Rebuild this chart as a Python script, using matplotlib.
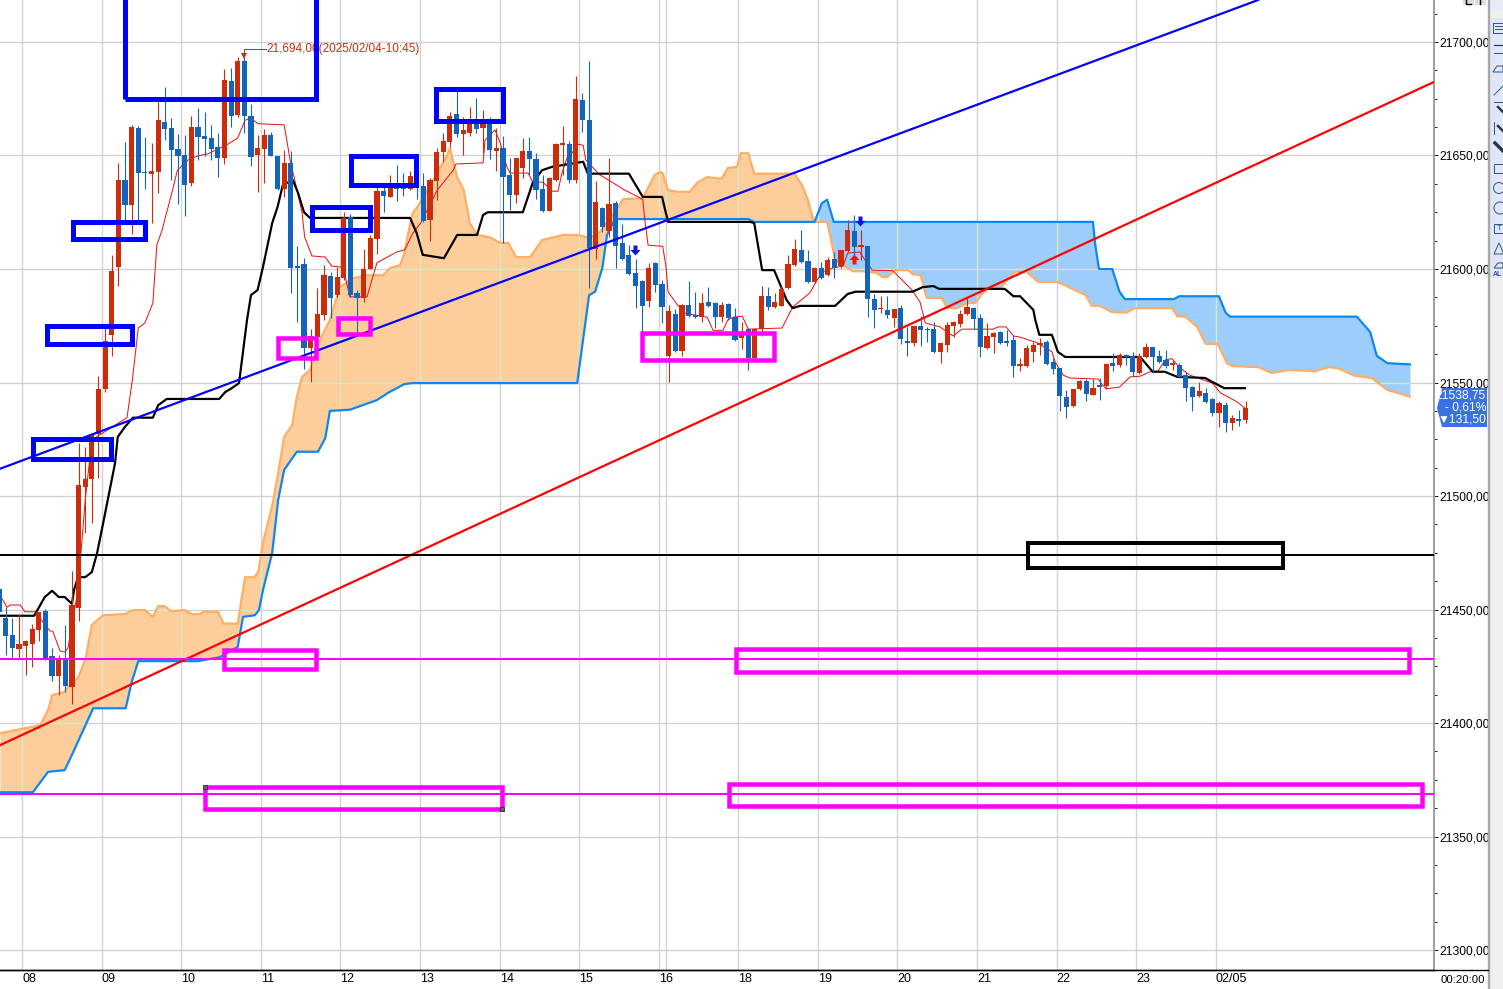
import numpy as np
import matplotlib
matplotlib.use("Agg")
import matplotlib.pyplot as plt
from matplotlib.patches import PathPatch, Polygon, Rectangle, Circle

# ---------- candles (5-minute bars, oldest first) ----------
opens = [21459, 21446.25, 21438.75, 21432.5, 21434, 21435, 21441, 21449.5, 21429.5, 21420.75,
 21428.25, 21416, 21450.75, 21504, 21507.5, 21527.25, 21547, 21571, 21600.75, 21639.25,
 21628.25, 21662, 21642.75, 21642, 21642.75, 21664.75, 21662, 21653, 21650.25, 21638,
 21662.5, 21658.5, 21657.75, 21653.75, 21649, 21682.75, 21667.75, 21691.5, 21667.5, 21650.25,
 21653, 21659, 21649.75, 21635.25, 21646.75, 21601.25, 21602.25, 21565.25, 21570, 21579.75,
 21597, 21588.5, 21596, 21623, 21589.5, 21587.25, 21600, 21613.25, 21634.25, 21631.75,
 21636.5, 21635.75, 21635.25, 21641, 21636.5, 21621.5, 21638.75, 21651.5, 21656, 21668.25,
 21659.5, 21660, 21664, 21662, 21664, 21652, 21653.25, 21641.5, 21632.5, 21644.5,
 21652, 21648.5, 21635.25, 21625.5, 21639.25, 21654.75, 21655, 21639.25, 21674.5, 21665.5,
 21608.75, 21627, 21616.75, 21629, 21611.5, 21606, 21598.25, 21594.75, 21586, 21602.75,
 21593.5, 21561.75, 21580.25, 21564, 21584.25, 21579.75, 21579, 21585.5, 21585, 21579,
 21584.5, 21579, 21569.5, 21573.5, 21560.75, 21573.5, 21588, 21583.25, 21583.75, 21591.5,
 21601.75, 21608.5, 21603.5, 21594.25, 21600.5, 21597.25, 21604.5, 21601.25, 21608, 21616.75,
 21609.75, 21610.25, 21586.75, 21582.25, 21582, 21578.5, 21582.75, 21568.25, 21567.5, 21575,
 21573.5, 21573.5, 21563.5, 21566.5, 21575, 21575.75, 21580, 21582.75, 21578.5, 21565.25,
 21570, 21572.25, 21567.75, 21568.75, 21557.25, 21557.25, 21563.5, 21566.5, 21567.75, 21559,
 21556.25, 21543.5, 21539.75, 21547, 21550.75, 21544.5, 21548.5, 21548.5, 21558.5, 21557.75,
 21561.75, 21561.75, 21554.25, 21561.25, 21565.5, 21561.75, 21560, 21557.75, 21557.75, 21553.25,
 21548, 21544, 21545.5, 21542.75, 21536.5, 21540, 21532, 21534, 21533.5]
highs = [21460, 21451, 21446.25, 21448, 21436.5, 21443.75, 21449, 21450.25, 21433, 21430,
 21443.25, 21467, 21523.25, 21521.5, 21527, 21552.75, 21574, 21606, 21646.75, 21656,
 21663.5, 21663, 21658, 21655.5, 21674.5, 21680.25, 21666.5, 21659.5, 21659, 21667.5,
 21671, 21669, 21663.5, 21660, 21688, 21688.5, 21693.5, 21694, 21672.75, 21659,
 21661.75, 21660.25, 21649.75, 21652.5, 21652, 21610.25, 21605, 21573.5, 21591.5, 21601.75,
 21598.75, 21601, 21625, 21624.25, 21590.75, 21608.75, 21615, 21636, 21637, 21641.25,
 21645.75, 21642.25, 21643.25, 21642.75, 21642.25, 21640, 21653.25, 21660, 21669.25, 21679,
 21667, 21671.25, 21675.25, 21670, 21667, 21662, 21658.5, 21649, 21649, 21657.75,
 21658, 21651, 21641.5, 21640.5, 21655.5, 21663, 21656.5, 21685, 21677.5, 21691.5,
 21638.75, 21627.25, 21649, 21630, 21619.75, 21610.5, 21604.5, 21595.25, 21602.75, 21603,
 21595.25, 21584, 21582.5, 21584.5, 21594.75, 21590, 21589.5, 21592, 21585.5, 21585.5,
 21585, 21582.75, 21576.75, 21574, 21574, 21592.5, 21592, 21589.5, 21592.5, 21606,
 21613.25, 21617, 21608.5, 21601, 21603, 21605.25, 21607.5, 21608.5, 21621.5, 21623.75,
 21617.25, 21610.25, 21589, 21588, 21588, 21582.25, 21584, 21574.5, 21575, 21579.25,
 21574.5, 21576.75, 21567.5, 21576.75, 21577, 21582, 21587.75, 21583.25, 21580.25, 21576.25,
 21572.25, 21572.75, 21573, 21571, 21560.75, 21566.5, 21567.75, 21569.5, 21568.75, 21560.75,
 21556.25, 21546.75, 21547, 21551, 21551.5, 21551.5, 21552, 21558.5, 21563, 21563,
 21562.5, 21563.5, 21563, 21567.5, 21565.5, 21564.25, 21564.25, 21560, 21558.5, 21554.5,
 21548.5, 21550.25, 21547.5, 21543.25, 21542, 21541.5, 21535.75, 21538, 21542]
lows = [21446.25, 21430, 21428.75, 21428.75, 21421.25, 21424.75, 21436, 21427.75, 21418.5, 21412.5,
 21413.75, 21408.25, 21445, 21483.75, 21488, 21508, 21545.75, 21561.75, 21592.5, 21621.5,
 21615.5, 21621.5, 21635.25, 21620.25, 21633.5, 21656.75, 21639.25, 21628.75, 21623.25, 21636.5,
 21648, 21649.75, 21648, 21640.5, 21646.25, 21662.5, 21667, 21660, 21645.5, 21634,
 21638, 21649.75, 21634.75, 21631.75, 21589.5, 21576.75, 21556, 21550.25, 21566.5, 21577.5,
 21578.5, 21587.75, 21595.25, 21587.75, 21571.75, 21585.5, 21600, 21606.5, 21625, 21631.75,
 21630, 21632, 21634.75, 21630.75, 21620.75, 21612.25, 21630.5, 21647, 21653.75, 21658.25,
 21650.25, 21658.5, 21660, 21651, 21648.5, 21643.25, 21611.5, 21626, 21629, 21640,
 21641.5, 21630.75, 21625, 21625.5, 21638.75, 21641.5, 21638, 21638, 21660.25, 21591.5,
 21604.5, 21616.25, 21614, 21600.5, 21604, 21597.25, 21582.75, 21571, 21583.25, 21590,
 21576.25, 21550.25, 21563.5, 21561.75, 21579, 21578.5, 21576.75, 21583.25, 21574, 21576.75,
 21577.5, 21568.25, 21564.75, 21555.5, 21560.75, 21570.5, 21582, 21582.75, 21583.75, 21591.25,
 21601.25, 21602.75, 21593.75, 21593.75, 21595.5, 21597, 21596, 21600.5, 21607.5, 21606,
 21604, 21578.75, 21574, 21580.5, 21578.5, 21574.5, 21567, 21561.75, 21566, 21566,
 21567.75, 21563, 21558.5, 21563.5, 21570, 21574.5, 21579.75, 21573.5, 21561.25, 21564.75,
 21563, 21567, 21566, 21552.5, 21555, 21556.75, 21559, 21562, 21557.75, 21553.75,
 21537.5, 21534.25, 21539.25, 21546.75, 21542, 21544.5, 21542.25, 21547, 21555, 21556.75,
 21557.75, 21553, 21553.75, 21560.75, 21554.25, 21558.5, 21556.5, 21555.5, 21552, 21541.75,
 21537.5, 21543.75, 21541, 21535.25, 21530.5, 21528.25, 21529, 21531, 21532]
closes = [21449, 21438.25, 21433, 21434.75, 21436, 21441.5, 21449, 21428.25, 21420.75, 21427.75,
 21416.25, 21452, 21504.75, 21507.5, 21527, 21547, 21568.25, 21599, 21639.25, 21628.25,
 21662.5, 21642.25, 21642.25, 21643.25, 21665.5, 21661.75, 21652.5, 21649.75, 21637, 21662.5,
 21658.25, 21657.25, 21653, 21649, 21683.25, 21667.5, 21691.5, 21667.5, 21649.25, 21653.25,
 21659, 21649.75, 21635.25, 21646.75, 21600.5, 21600.5, 21565.25, 21570.5, 21580.25, 21597.25,
 21587.25, 21596.5, 21622.5, 21588.5, 21587.25, 21600, 21613.75, 21634.25, 21632, 21636,
 21635.25, 21635.25, 21641, 21638, 21621.25, 21639.25, 21651.5, 21656.5, 21667.5, 21659.5,
 21661.25, 21664, 21661.75, 21664, 21652.5, 21653.25, 21640.5, 21632.5, 21649, 21652,
 21648.5, 21634.75, 21625.5, 21640, 21655, 21655.5, 21639.25, 21675, 21665.5, 21609.25,
 21629.5, 21618.5, 21628.75, 21610.25, 21604.5, 21597.75, 21592.5, 21583.75, 21600.5, 21593,
 21583.25, 21581.5, 21564, 21584.25, 21579.25, 21579, 21585, 21583.75, 21579, 21584.25,
 21578.5, 21568.75, 21571, 21560.75, 21573.5, 21588, 21583.25, 21585.5, 21591, 21602.25,
 21608.75, 21603, 21594.25, 21600.5, 21596, 21604, 21600.5, 21608.5, 21617.25, 21609.75,
 21610.5, 21586.75, 21582, 21582.75, 21579.75, 21582.25, 21569, 21567.5, 21575, 21573,
 21573, 21563.5, 21567.5, 21575.25, 21576.75, 21580, 21583.25, 21578, 21565.75, 21570.5,
 21571.75, 21567.5, 21567.5, 21557.25, 21558, 21565.25, 21566.5, 21567.5, 21558, 21556,
 21544, 21539, 21547, 21550.75, 21545, 21547.5, 21548, 21558, 21557.25, 21562,
 21561.25, 21554.75, 21561.75, 21565.5, 21561.25, 21559, 21557.25, 21558, 21552.5, 21547.5,
 21543.75, 21546.25, 21541.5, 21536.5, 21541, 21532, 21534.25, 21533, 21538.75]

# ---------- Ichimoku lines: vertices as (bar position, price) ----------
kijun = [(-0.9, 21447.25), (4.3, 21447.25), (5.9, 21455.5), (7, 21458.25), (8, 21455.5), (8.9, 21455.5), (10, 21452.5),
 (10.3, 21458.5), (10.9, 21464.25), (12, 21464.25), (13, 21466.5), (13.8, 21475), (14.7, 21488), (15.7, 21502.75),
 (16.5, 21514.5), (16.9, 21526), (18, 21530.5), (19.2, 21534.5), (22.2, 21534.5), (23, 21540), (24.3, 21542.75),
 (32.2, 21542.75), (33.1, 21545.75), (34.1, 21547.5), (35.2, 21549.75), (35.5, 21556.75), (36.4, 21577.5),
 (37, 21588.5), (38, 21590.75), (38.8, 21600.75), (40.2, 21620.25), (41, 21627.25), (41.8, 21637), (43.3, 21639.25),
 (44.1, 21633.5), (45, 21625), (45.9, 21622.5), (61, 21622.5), (62, 21615.75), (62.9, 21606.25), (66.1, 21604.75),
 (68.1, 21615), (71.1, 21615), (72, 21623.75), (72.7, 21625), (78, 21625), (79.5, 21638), (80.9, 21643.5),
 (82.4, 21645), (87.1, 21647.25), (87.8, 21642), (94, 21642), (96.1, 21631.75), (99, 21631.75), (99.9, 21620.75),
 (112.3, 21620.75), (112.9, 21620.25), (114.1, 21599.5), (115.9, 21599.5), (117.8, 21586.25), (118.7, 21582.75),
 (119.8, 21583.75), (125.1, 21583.75), (127, 21589), (128.2, 21590), (136.8, 21590), (138.3, 21592), (139.9, 21592.5),
 (140.8, 21591.25), (150.7, 21591.25), (152, 21588), (153, 21588), (155, 21582), (155.3, 21577.5), (155.9, 21571),
 (157.8, 21571), (158.7, 21563.5), (159.8, 21561.25), (171.1, 21561.25), (173, 21554.75), (174.8, 21554.75),
 (176.7, 21552.5), (180.9, 21552), (182, 21550.25), (183.8, 21547.5), (186.9, 21547.5)]

span_orange = [(-0.9, 21395.5), (5.2, 21399), (6.4, 21405.75), (7, 21412.25), (8.9, 21413.75), (10, 21418), (10.9, 21419.75),
 (11.5, 21424.25), (12.1, 21429), (13, 21443.25), (14.7, 21447.5), (18, 21448), (19.2, 21449.75), (21, 21449.75),
 (22.2, 21446.75), (23, 21451.5), (24, 21451.5), (24.9, 21449.25), (27, 21449.75), (28.1, 21448), (29.3, 21448),
 (29.8, 21449), (32, 21449), (32.9, 21443.75), (35, 21443.75), (36.1, 21464.25), (37.5, 21464.25), (38.1, 21466.5),
 (38.8, 21479.25), (40.3, 21497), (41.1, 21510.25), (42, 21526), (43.2, 21531.25), (43.9, 21543.5), (44.7, 21552.5),
 (45.9, 21555.5), (47.4, 21568.75), (48.9, 21577.5), (50.4, 21592), (52.4, 21596), (54.5, 21597.25), (56.9, 21597.25),
 (58, 21600.5), (59.5, 21601.75), (60.2, 21607.5), (60.7, 21615.75), (61.4, 21624.75), (62.2, 21627.75), (65.1, 21642.25),
 (66.6, 21650.25), (67, 21653.25), (68.1, 21640.5), (69.1, 21634.75), (70, 21620.25), (71.1, 21615), (73, 21614),
 (74.6, 21611.5), (75.8, 21611.5), (77, 21605.25), (79.1, 21605.25), (80.9, 21612.75), (84.1, 21615), (86.2, 21615),
 (88.1, 21613.75), (89.6, 21616.25), (92.4, 21627.25), (93.1, 21630.75), (96.1, 21631.25), (97.9, 21641.5), (98.7, 21642.75),
 (99.1, 21642.25), (99.9, 21634.75), (101.4, 21634), (103.2, 21634), (104.3, 21638), (105.8, 21640.5), (108, 21639.75),
 (108.9, 21644.5), (110.3, 21645), (110.9, 21651), (112, 21651), (112.9, 21642), (119, 21642), (120.1, 21637), (121, 21630.5),
 (121.9, 21620.75), (123.9, 21620.75), (124.8, 21608.5), (125.1, 21604), (126.3, 21601.75), (127.8, 21599), (129.3, 21599),
 (131.4, 21598.25), (132.2, 21596.5), (133, 21596.5), (134.1, 21599.5), (136.1, 21599.5), (136.8, 21597.75), (138, 21597.25),
 (138.9, 21587.25), (141.2, 21587.25), (142, 21582.75), (143.5, 21582.75), (145, 21585), (146.2, 21585), (147.4, 21589.5),
 (148.2, 21591.5), (150, 21591.5), (151, 21595), (152.2, 21598.75), (154, 21598.75), (155.7, 21594.25), (158.7, 21594.25),
 (160.5, 21591.75), (162.9, 21588.5), (163.8, 21583.75), (165, 21583.75), (166.9, 21581), (169, 21580.75), (170.3, 21582.75),
 (175.9, 21582.75), (176.7, 21579.25), (177.9, 21579), (179.7, 21574.5), (181, 21567), (182.8, 21567), (184.2, 21558.5),
 (185, 21557.25), (189, 21556.75), (190.9, 21554.25), (193.6, 21555.5), (197.5, 21555), (199.6, 21556.75), (201, 21556.25),
 (203.4, 21553), (206, 21552), (208.4, 21546.75), (211.8, 21543.75)]

span_blue = [(-0.9, 21369.5), (4.1, 21369.5), (6.4, 21378.5), (8.9, 21379.25), (10, 21386), (13.2, 21406.5), (18.1, 21406.5),
 (19, 21418), (20, 21427.25), (29, 21427.25), (32.3, 21429), (35, 21433.5), (35.8, 21446.75), (37.6, 21447.5), (38.2, 21449.75),
 (38.8, 21458.5), (40.2, 21475), (41.1, 21498.25), (42, 21511.5), (43.9, 21519.5), (47.1, 21519.5), (48.2, 21525.5),
 (48.9, 21537.5), (51.9, 21538), (56, 21542.25), (57.7, 21545.5), (60.1, 21549.25), (61.3, 21549.75), (86.2, 21549.75),
 (88, 21588.5), (88.9, 21590), (90, 21600.5), (90.7, 21615), (91.9, 21622), (112, 21622), (112.9, 21620.75), (122, 21620.75),
 (123.1, 21629), (123.9, 21630.5), (124.9, 21620.75), (164, 21620.75), (164.3, 21611.5), (164.9, 21600), (166.9, 21600),
 (168, 21590), (168.8, 21586.75), (176.2, 21586.75), (177, 21588), (183, 21588), (184, 21580.75), (184.7, 21579),
 (203.8, 21579), (205.8, 21572.25), (206.8, 21561.75), (208.4, 21558.5), (211.8, 21558)]

tenkan = [(-0.6, 21455), (0.2, 21451), (0.7, 21452), (2.2, 21452), (2.9, 21449), (4.4, 21449), (6.7, 21440.5), (7.1, 21440.5),
 (8.2, 21431.75), (8.9, 21431.25), (9.4, 21433), (10.9, 21458.5), (12, 21498.25), (13, 21524.75), (18.3, 21534.5), (19.1, 21551),
 (20, 21574), (21, 21576.25), (22.2, 21585), (22.8, 21610.5), (23.6, 21617.25), (25.1, 21634), (25.9, 21643.5), (27.5, 21648),
 (28.9, 21649.75), (30.5, 21650.75), (33.4, 21654.75), (35, 21657.75), (36.1, 21665.5), (36.9, 21666.5), (38.1, 21664),
 (42, 21663.5), (42.4, 21656.75), (42.9, 21648), (43.6, 21639.25), (44.7, 21624.75), (45.1, 21614), (46.2, 21605.75),
 (48.2, 21605.25), (49.2, 21601.25), (50.9, 21600.75), (51.9, 21587.75), (54.5, 21587.75), (56, 21602.75), (59, 21607.5),
 (60.2, 21608.5), (61.4, 21615.75), (62.6, 21620.25), (65.1, 21634.75), (67.5, 21643.5), (67.9, 21646.25), (72, 21646.75),
 (72.3, 21656.75), (73.8, 21661.25), (74.6, 21655.5), (75.6, 21645), (76.1, 21642.25), (78.8, 21642.25), (79.5, 21638.25),
 (81, 21638.25), (82.5, 21634.25), (83.3, 21634.25), (83.9, 21642.25), (84.7, 21649.25), (85.4, 21651), (86.3, 21655),
 (87.1, 21654.5), (87.5, 21648), (89.6, 21641.5), (93.4, 21634.75), (95.4, 21631.75), (96.1, 21630.5), (96.4, 21621.5),
 (96.9, 21610.5), (99.1, 21610), (99.6, 21600.75), (99.9, 21590), (101.3, 21584.25), (102.5, 21580.5), (105.8, 21578.75),
 (106.7, 21573), (108.2, 21573), (108.9, 21577.5), (109.7, 21578.75), (111.1, 21579.25), (112, 21573.5), (117.1, 21574),
 (118.7, 21583.25), (121.3, 21589.5), (122.4, 21595.25), (123.3, 21598.75), (124.8, 21600.5), (126.3, 21601.25), (127, 21607),
 (128.8, 21607.5), (129.6, 21604), (130.7, 21599.5), (133.8, 21599.25), (136.7, 21590.75), (137.9, 21585.5), (138.7, 21576.25),
 (140.9, 21574.5), (142, 21572.25), (142.9, 21570.5), (144.2, 21573.5), (148.9, 21573.5), (149.7, 21574.5), (150.9, 21574.5),
 (152, 21570.5), (153, 21570), (155.6, 21567.5), (157.8, 21563.5), (158.3, 21559), (159.5, 21553.25), (160.5, 21552),
 (164.8, 21551.5), (165.4, 21549), (166, 21547.25), (168, 21548), (169.6, 21552.5), (171.1, 21552.75), (172.6, 21554.75),
 (173.8, 21555), (174.9, 21560), (175.9, 21560.5), (177.1, 21556.5), (178.6, 21553.25), (182, 21549.75), (183.2, 21545.5),
 (185.7, 21541.5), (186.9, 21538.75)]

kijun_x, kijun_y = zip(*kijun)
span_orange_x, span_orange_y = zip(*span_orange)
span_blue_x, span_blue_y = zip(*span_blue)
tenkan_x, tenkan_y = zip(*tenkan)

# ---------- drawn trend lines and levels ----------
blue_trend_x = [-0.855, 188.9]
blue_trend_y = [21512, 21718.5]
red_trend_x = [-0.855, 215.43]
red_trend_y = [21390.25, 21682.4]
black_level = 21474
magenta_levels = [21428.25, 21368.75]

# drawn boxes: x0, x1, price0, price1
blue_boxes = [(18.07, 46.88, 21675.1, 21730), (4.05, 15.89, 21525.1, 21516.3), (6.16, 18.98, 21575.1, 21566.75),
              (10.08, 20.94, 21620.9, 21613), (46.13, 54.88, 21627.1, 21617), (52.01, 61.96, 21649.6, 21637.2),
              (64.98, 74.94, 21679.5, 21665.4)]
magenta_boxes = [(41, 46.88, 21569.4, 21560.6), (50.05, 54.88, 21578.6, 21571.15), (96.05, 115.81, 21572, 21559.7),
                 (33, 46.88, 21432, 21423.6), (30.06, 74.86, 21372, 21362.1), (110.16, 211.66, 21432.6, 21422.5),
                 (109.1, 213.66, 21373, 21363.5)]
black_boxes = [(154.12, 192.66, 21479.1, 21468.3)]
box_handles = [(30.06, 21372), (74.86, 21362.1)]

# signals
down_arrows = [(94.9, 21608.4), (128.9, 21621)]
up_arrows = [(128, 21604.4)]
high_mark = (36, 21694)
high_text = "21,694,00(2025/02/04-10:45)"

# ---------- axis content ----------
grid_x = [2.5, 14.5, 26.5, 38.5, 50.5, 62.5, 74.5, 86.5, 98.5, 110.5, 122.5, 134.5, 146.5, 158.5, 170.5, 182.5]
grid_x_extra = [99.6]
x_labels = ["08", "09", "10", "11", "12", "13", "14", "15", "16", "18", "19", "20", "21", "22", "23", "02/05"]
y_major = [21300, 21350, 21400, 21450, 21500, 21550, 21600, 21650, 21700]
y_minor_step = 12.5
tag_lines = ["21538,75", "- 0,61%", "▼131,50"]
interval_label = "00:20:00"

RED, BLUE = "#cc2c0a", "#1464bc"
NARROW = ["Liberation Sans", "DejaVu Sans"]
W, H = 1503, 989
px = 0.72  # 1 pixel in points at dpi 100

fig = plt.figure(figsize=(W / 100, H / 100), dpi=100, facecolor="white")
ax = fig.add_axes([0, (H - 970) / H, 1434 / W, 970 / H])

x = np.arange(len(opens)) - 1
o, h, l, c = map(np.array, (opens, highs, lows, closes))
up = c >= o

# grid
GRID = "#d2d2d2"
for gx in grid_x + grid_x_extra:
    ax.axvline(gx, color=GRID, lw=1.4 * px, zorder=0.5)
for gy in y_major:
    ax.axhline(gy, color=GRID, lw=1.4 * px, zorder=0.5)

# cloud
g = np.linspace(-0.855, 211.8, 6000)
oy = np.interp(g, span_orange_x, span_orange_y)
by = np.interp(g, span_blue_x, span_blue_y)
f1 = ax.fill_between(g, by, oy, where=oy >= by, color="#fdcd9b", lw=0, zorder=1, interpolate=True)
f2 = ax.fill_between(g, by, oy, where=by >= oy, color="#9dcdfb", lw=0, zorder=1, interpolate=True)
for coll in (f1, f2):
    for path in coll.get_paths():
        clip = PathPatch(path, transform=ax.transData)
        for gx in grid_x + grid_x_extra:
            ax.axvline(gx, color="#d9e8bd", lw=1.4 * px, zorder=1.1).set_clip_path(clip)
        for gy in y_major:
            ax.axhline(gy, color="#d9e8bd", lw=1.4 * px, zorder=1.1).set_clip_path(clip)
ax.plot(span_orange_x, span_orange_y, color="#ffae63", lw=2.2 * px, zorder=2, solid_joinstyle="round")
ax.plot(span_blue_x, span_blue_y, color="#0a87f5", lw=2.2 * px, zorder=2.1, solid_joinstyle="round")

# conversion / base lines
ax.plot(tenkan_x, tenkan_y, color="#f01010", lw=1.0 * px, zorder=2.2)
ax.plot(kijun_x, kijun_y, color="black", lw=2.2 * px, zorder=2.3)

# candles
colors = np.where(up, RED, BLUE)
ax.vlines(x, l, h, colors=colors, lw=1.1 * px, zorder=3)
body_low = np.minimum(o, c)
body_h = np.maximum(np.abs(c - o), 0.7)
ax.bar(x, body_h, bottom=body_low, width=0.78, color=colors, lw=0, zorder=3.1, antialiased=False)

# trend lines and levels
ax.plot(blue_trend_x, blue_trend_y, color="#0000ff", lw=2.2 * px, zorder=4)
ax.plot(red_trend_x, red_trend_y, color="#ff0000", lw=2.2 * px, zorder=4)
ax.axhline(black_level, color="black", lw=2 * px, zorder=4)
for lv in magenta_levels:
    ax.axhline(lv, color="#ff00ff", lw=2 * px, zorder=4)

# boxes
def add_boxes(boxes, color, lw):
    for x0, x1, p0, p1 in boxes:
        ax.add_patch(Rectangle((x0, p0), x1 - x0, p1 - p0, fill=False, ec=color, lw=lw * px,
                               zorder=5, joinstyle="miter"))

add_boxes(blue_boxes, "#0000ff", 5)
add_boxes(magenta_boxes, "#ff00ff", 4.5)
add_boxes(black_boxes, "black", 4)
ax.plot(*zip(*box_handles), ls="", marker="s", ms=5 * px, mfc="#666666", mec="#222222", mew=0.5, zorder=6)

# signal arrows
ARROW_DOWN = [(-0.2, 0.5), (0.2, 0.5), (0.2, 0.05), (0.5, 0.05), (0, -0.5), (-0.5, 0.05), (-0.2, 0.05)]
ARROW_UP = [(vx, -vy) for vx, vy in ARROW_DOWN]
ax.plot(*zip(*down_arrows), ls="", marker=ARROW_DOWN, ms=10 * px, color="#1010e0", mew=0, zorder=6)
ax.plot(*zip(*up_arrows), ls="", marker=ARROW_UP, ms=10 * px, color="#ff1010", mew=0, zorder=6)

# high annotation
ax.plot([high_mark[0], high_mark[0], high_mark[0] + 3.2], [high_mark[1], 21696.9, 21696.9],
        color="#c8300a", lw=1 * px, zorder=4.5)
ax.plot([high_mark[0]], [high_mark[1] - 0.3], marker="v", ms=4 * px * 1.5, color="#c8300a", mew=0, zorder=4.5)
ax.text(39.3, 21696.9, high_text, color="#c8300a", fontsize=11.8 * px, family=NARROW, va="center", ha="left", zorder=4.5)

# axes
for s in ("top", "left"):
    ax.spines[s].set_visible(False)
ax.spines["right"].set_color("#a0a0a0")
ax.spines["right"].set_linewidth(2 * px)
ax.spines["bottom"].set_color("black")
ax.spines["bottom"].set_linewidth(1.4 * px)
ax.yaxis.tick_right()
ax.set_yticks(y_major)
ax.set_yticklabels([f"{v},00" for v in y_major], family=NARROW, fontsize=12 * px)
minor = [t for t in np.arange(21287.5, 21720, y_minor_step) if t not in y_major]
ax.set_yticks(minor, minor=True)
ax.tick_params(axis="y", which="major", length=4 * px, width=1 * px, pad=1, color="#222222")
ax.tick_params(axis="y", which="minor", length=3 * px, width=1 * px, color="#222222")
ax.set_xticks(grid_x)
ax.set_xticklabels(x_labels, family=NARROW, fontsize=12.5 * px, ha="left")
ax.tick_params(axis="x", length=0, pad=2.5)
ax.set_xlim(-0.855, 215.43)
ax.set_ylim(21291.2, 21718.5)

# window chrome, in pixel coordinates
ov = fig.add_axes([0, 0, 1, 1], facecolor="none", zorder=10)
ov.set_xlim(0, W)
ov.set_ylim(H, 0)
ov.axis("off")
ov.add_patch(Rectangle((1488, 0), 15, H, fc="#efefef", lw=0))
ov.add_patch(Rectangle((1490, 18), 13, 260, fc="#e0e6f5", lw=0))
ov.add_patch(Rectangle((1490, 0), 13, 10, fc="#e6ecfa", lw=0))
ov.plot([1488.5, 1488.5], [0, H], color="#a8a8a8", lw=2.4 * px)
ov.plot([0, 1488], [970.3, 970.3], color="black", lw=1.4 * px)
ov.add_patch(Rectangle((1463, 0), 11, 5, fc="#dddddd", lw=0))
ov.add_patch(Rectangle((1475, 0), 11, 5, fc="#dddddd", lw=0))
ov.plot([1466, 1466, 1471], [0, 4, 4], color="black", lw=1.4 * px)
ov.plot([1480, 1480], [0, 4], color="black", lw=1.4 * px)
ICON = "#34588c"
ov.add_patch(Rectangle((1493, 23), 12, 10, fill=False, ec=ICON, lw=px))
ov.plot([1495, 1503], [26, 26], color=ICON, lw=px)
ov.plot([1495, 1503], [29, 29], color=ICON, lw=px)
ov.plot([1494, 1503], [45, 45], color="#223355", lw=1.2 * px)
ov.plot([1494, 1503], [53, 53], color=ICON, lw=px)
ov.add_patch(Polygon([(1493, 72), (1497, 66), (1503, 66), (1503, 72)], fill=False, ec=ICON, lw=px))
ov.plot([1494, 1503], [95, 86], color=ICON, lw=px)
ov.plot([1494, 1503], [102, 102], color=ICON, lw=px)
ov.plot([1498, 1503], [107, 112], color="#223355", lw=2.4 * px)
ov.plot([1494, 1494], [122, 134], color=ICON, lw=px)
ov.plot([1498, 1503], [126, 131], color="#223355", lw=2.4 * px)
ov.plot([1495, 1503], [143, 151], color="#223355", lw=3.4 * px)
ov.add_patch(Rectangle((1494, 164), 9, 9, fill=False, ec=ICON, lw=px))
ov.add_patch(Circle((1499, 188), 5.5, fill=False, ec=ICON, lw=px))
ov.add_patch(Circle((1500, 208), 6, fill=False, ec=ICON, lw=px))
ov.add_patch(Rectangle((1494, 224), 9, 9, fill=False, ec=ICON, lw=px))
ov.text(1499, 229, "T", color=ICON, fontsize=8 * px, ha="center", va="center", family=NARROW)
ov.add_patch(Polygon([(1494, 254), (1499, 243), (1503, 252), (1503, 254)], fill=False, ec=ICON, lw=px))
ov.add_patch(Polygon([(1494, 268), (1498, 263), (1503, 263), (1503, 268)], fill=False, ec=ICON, lw=px))
ov.text(1493, 274, "AL", color=ICON, fontsize=7 * px, ha="left", va="center", family=NARROW, fontweight="bold")
ov.text(1485, 980, interval_label, family=NARROW, fontsize=11.2 * px, ha="right", va="center", color="black")

# last price tag
ov.add_patch(Polygon([(1437, 408), (1442, 388), (1487, 388), (1487, 427), (1442, 427)], fc="#3a72e4", lw=0))
for ty, txt in zip((396, 408, 420), tag_lines):
    ov.text(1486, ty, txt, color="white", family=NARROW, fontsize=12 * px, ha="right", va="center")

fig.savefig("out.png", dpi=100)
